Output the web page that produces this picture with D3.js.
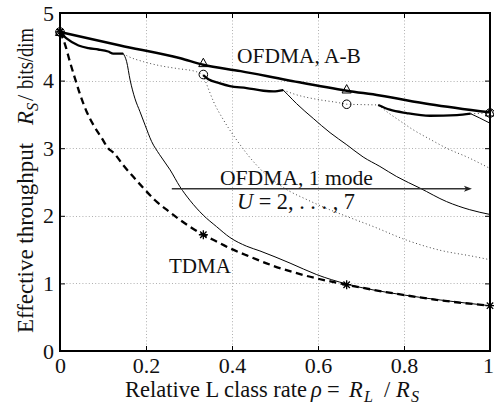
<!DOCTYPE html>
<html><head><meta charset="utf-8">
<script src="https://cdn.jsdelivr.net/npm/d3@7"></script>
<style>
body{margin:0;background:#fff}
svg text{font-family:"Liberation Serif","Times New Roman",serif;fill:#111}
</style>
</head><body>
<svg id="chart" width="494" height="407"></svg>
<script>
// ---------- data ----------
const xTicks = [0, 0.2, 0.4, 0.6, 0.8, 1];
const xTickLabels = ["0", "0.2", "0.4", "0.6", "0.8", "1"];
const yTicks = [0, 1, 2, 3, 4, 5];
const yTickLabels = ["0", "1", "2", "3", "4", "5"];

// OFDMA, A-B (thick solid)
const ofdmaAB = [[0,4.72],[0.14,4.52],[0.28,4.33],[0.333,4.235],[0.42,4.14],[0.527,4.01],[0.667,3.85],[0.744,3.78],[0.86,3.65],[1,3.53]];
const ofdmaABMarks = [[0,4.72],[1/3,4.26],[2/3,3.87],[1,3.53]];

// TDMA (thick dashed)
const tdma = [[0,4.72],[0.012,4.53],[0.023,4.28],[0.035,4.03],[0.047,3.79],[0.062,3.54],[0.078,3.34],[0.097,3.15],[0.112,3.0],[0.125,2.93],[0.147,2.75],[0.17,2.58],[0.194,2.41],[0.221,2.23],[0.248,2.09],[0.279,1.94],[0.302,1.84],[0.333,1.72],[0.364,1.62],[0.395,1.52],[0.432,1.42],[0.496,1.26],[0.574,1.11],[0.667,0.98],[0.798,0.83],[0.884,0.75],[1,0.67]];
const tdmaMarks = [[0,4.72],[1/3,1.72],[2/3,0.98],[1,0.67]];

// OFDMA 1 mode, best-of envelope pieces (thick solid, wavy)
const envSeg1 = [[0,4.72],[0.016,4.62],[0.043,4.52],[0.066,4.48],[0.089,4.46],[0.112,4.43],[0.124,4.40],[0.147,4.40]];
const envSeg2 = [[0.333,4.08],[0.345,4.02],[0.372,3.96],[0.395,3.92],[0.434,3.89],[0.473,3.85],[0.496,3.84],[0.519,3.86]];
const envSeg3 = [[0.74,3.64],[0.767,3.57],[0.806,3.52],[0.86,3.48],[0.923,3.49],[0.955,3.51]];
const envMarks = [[0,4.72],[1/3,4.09],[2/3,3.65],[1,3.52]];

// OFDMA 1 mode, single U curves (thin solid)
const u2 = [[0.147,4.40],[0.155,4.28],[0.163,4.01],[0.174,3.74],[0.186,3.54],[0.198,3.34],[0.213,3.10],[0.231,2.91],[0.256,2.68],[0.279,2.43],[0.302,2.23],[0.333,2.01],[0.364,1.84],[0.395,1.68],[0.434,1.55],[0.465,1.48],[0.535,1.30],[0.597,1.13],[0.667,0.99],[0.798,0.83],[0.884,0.755],[1,0.67]];
const u4 = [[0.519,3.86],[0.53,3.79],[0.55,3.66],[0.589,3.44],[0.628,3.23],[0.667,3.05],[0.705,2.87],[0.744,2.73],[0.783,2.58],[0.837,2.41],[0.899,2.21],[0.953,2.09],[1,2.02]];
const u6 = [[0.955,3.51],[0.975,3.45],[1,3.37]];

// OFDMA 1 mode, single U curves (dotted)
const u3 = [[0.333,4.08],[0.345,3.88],[0.357,3.69],[0.38,3.42],[0.411,3.12],[0.45,2.80],[0.481,2.60],[0.512,2.45],[0.535,2.36],[0.574,2.24],[0.612,2.13],[0.659,2.01],[0.729,1.84],[0.806,1.64],[0.884,1.49],[0.961,1.40],[1,1.35]];
const u5 = [[0.74,3.64],[0.76,3.54],[0.787,3.42],[0.822,3.27],[0.864,3.12],[0.899,3.0],[0.95,2.86],[1,2.70]];
const dotLink1 = [[0.147,4.40],[0.155,4.37],[0.194,4.28],[0.233,4.22],[0.271,4.18],[0.318,4.13],[0.333,4.09]];
const dotLink2 = [[0.519,3.86],[0.55,3.79],[0.6,3.72],[0.651,3.67],[0.667,3.65],[0.7,3.645],[0.74,3.64]];
const dotLink3 = [[0.955,3.51],[1,3.52]];

// arrow "U = 2..7"
const arrowFrom = [0.26, 2.40];
const arrowTo = [0.958, 2.40];

// ---------- drawing ----------
const svg = d3.select("#chart");
const x = d3.scaleLinear().domain([0, 1]).range([60, 490]);
const y = d3.scaleLinear().domain([0, 5]).range([351, 13]);
const FS = 21.3, TFS = 22, LFS = 22.4;

// fit a text's font size so that it spans the wanted width (keeps glyph shapes)
function fit(sel, width) {
  const L = sel.node().getComputedTextLength();
  if (L > 0) {
    const fs = +sel.attr("font-size");
    sel.attr("font-size", Math.max(17, Math.min(27, fs * width / L)));
  }
  return sel;
}

// grid
const grid = svg.append("g").attr("stroke", "#b0b0b0").attr("stroke-width", 1).attr("stroke-dasharray", "1,2.2");
grid.selectAll("line.vx").data(xTicks.slice(1, -1)).join("line")
  .attr("x1", d => Math.round(x(d)) + 0.5).attr("x2", d => Math.round(x(d)) + 0.5)
  .attr("y1", y(0)).attr("y2", y(5));
grid.selectAll("line.hy").data(yTicks.slice(1, -1)).join("line")
  .attr("y1", d => Math.round(y(d)) + 0.5).attr("y2", d => Math.round(y(d)) + 0.5)
  .attr("x1", x(0)).attr("x2", x(1));

// axes
function styleAxis(g) {
  g.select(".domain").remove();
  g.selectAll(".tick line").attr("stroke", "#000").attr("stroke-width", 1);
  g.selectAll("text").attr("font-size", TFS).attr("fill", "#111")
    .attr("font-family", '"Liberation Serif","Times New Roman",serif');
}
const xAxisG = svg.append("g").attr("transform", `translate(0,${y(0)})`)
  .call(d3.axisBottom(x).tickValues(xTicks).tickFormat((d, i) => xTickLabels[i]).tickSize(-5).tickPadding(6))
  .call(styleAxis);
xAxisG.selectAll(".tick text").filter(d => d === 1).attr("dx", -2);
svg.append("g").attr("transform", `translate(${x(0)},0)`)
  .call(d3.axisLeft(y).tickValues(yTicks).tickFormat((d, i) => yTickLabels[i]).tickSize(-5).tickPadding(6))
  .call(styleAxis);
svg.append("g").attr("transform", `translate(0,${y(5)})`)
  .call(d3.axisTop(x).tickValues(xTicks).tickFormat("").tickSize(-5)).call(styleAxis);
svg.append("g").attr("transform", `translate(${x(1)},0)`)
  .call(d3.axisRight(y).tickValues(yTicks).tickFormat("").tickSize(-5)).call(styleAxis);

// frame
svg.append("rect").attr("x", x(0)).attr("y", y(5)).attr("width", x(1) - x(0)).attr("height", y(0) - y(5))
  .attr("fill", "none").attr("stroke", "#000").attr("stroke-width", 2);

// lines
const line = d3.line().x(d => x(d[0])).y(d => y(d[1])).curve(d3.curveMonotoneX);
const lines = svg.append("g").attr("fill", "none").attr("stroke-linejoin", "round");
function draw(data, w, dash, color) {
  lines.append("path").attr("d", line(data)).attr("stroke", color || "#000")
    .attr("stroke-width", w).attr("stroke-dasharray", dash || null);
}
[u3, u5, dotLink1, dotLink2, dotLink3].forEach(d => draw(d, 1, "1,2.6", "#444"));
[u2, u4, u6].forEach(d => draw(d, 1, null, "#000"));
draw(tdma, 2.3, "7,4.5");
[envSeg1, envSeg2, envSeg3].forEach(d => draw(d, 2.3));
draw(ofdmaAB, 2.5);

// markers
const mk = svg.append("g").attr("fill", "none").attr("stroke", "#000").attr("stroke-width", 1);
mk.selectAll("circle").data(envMarks).join("circle")
  .attr("cx", d => x(d[0])).attr("cy", d => y(d[1])).attr("r", 4.3);
mk.selectAll("path.tri").data(ofdmaABMarks).join("path").attr("class", "tri")
  .attr("d", d => { const cx = x(d[0]), cy = y(d[1]); return `M${cx},${cy - 4.8}L${cx + 4.6},${cy + 3.6}L${cx - 4.6},${cy + 3.6}Z`; });
mk.selectAll("path.star").data(tdmaMarks).join("path").attr("class", "star")
  .attr("stroke-width", 1.3)
  .attr("d", d => { const cx = x(d[0]), cy = y(d[1]), r = 4.5, q = 3.2;
    return `M${cx - r},${cy}L${cx + r},${cy}M${cx},${cy - r}L${cx},${cy + r}M${cx - q},${cy - q}L${cx + q},${cy + q}M${cx - q},${cy + q}L${cx + q},${cy - q}`; });

// arrow
const ax1 = x(arrowFrom[0]), ax2 = x(arrowTo[0]), ay = y(arrowFrom[1]);
svg.append("line").attr("x1", ax1).attr("x2", ax2 - 5).attr("y1", ay).attr("y2", ay)
  .attr("stroke", "#333").attr("stroke-width", 1.4);
svg.append("path").attr("d", `M${ax2},${ay}L${ax2 - 8},${ay - 3}L${ax2 - 6},${ay}L${ax2 - 8},${ay + 3}Z`).attr("fill", "#222");

// annotations
fit(svg.append("text").attr("x", 237).attr("y", y(4.26)).attr("font-size", FS).text("OFDMA, A-B"), 124);
fit(svg.append("text").attr("x", 220).attr("y", 184.5).attr("font-size", FS).text("OFDMA, 1 mode"), 153);
const ut = svg.append("text").attr("x", 237).attr("y", 208.5).attr("font-size", FS);
ut.append("tspan").attr("font-style", "italic").text("U");
ut.append("tspan").text(" = 2, . . . , 7");
fit(ut, 118);
fit(svg.append("text").attr("x", 169).attr("y", y(1.154)).attr("font-size", FS).text("TDMA"), 62);

// x label (pieces placed like the LaTeX typesetting)
const xlMain = fit(svg.append("text").attr("x", 125).attr("y", 397).attr("font-size", LFS).text("Relative L class rate"), 182);
const xl = svg.append("text").attr("y", 397).attr("font-size", xlMain.attr("font-size"));
xl.append("tspan").attr("x", 311).attr("font-style", "italic").text("ρ");
xl.append("tspan").attr("x", 327).text("=");
xl.append("tspan").attr("x", 349).attr("font-style", "italic").text("R");
xl.append("tspan").attr("x", 364).attr("font-style", "italic").attr("font-size", LFS * 0.72).attr("dy", 5).text("L");
xl.append("tspan").attr("x", 384).attr("dy", -5).text("/");
xl.append("tspan").attr("x", 396).attr("font-style", "italic").text("R");
xl.append("tspan").attr("x", 411).attr("font-style", "italic").attr("font-size", LFS * 0.72).attr("dy", 5).text("S");

// y label (rotated; x runs upward as -y)
const ylg = svg.append("g").attr("transform", "translate(33,0) rotate(-90)");
const ylMain = fit(ylg.append("text").attr("x", -333).attr("font-size", LFS).text("Effective throughput"), 190);
const yfs = +ylMain.attr("font-size");
const yl = ylg.append("text").attr("font-size", yfs);
yl.append("tspan").attr("x", -125).attr("font-style", "italic").text("R");
yl.append("tspan").attr("x", -111).attr("font-style", "italic").attr("font-size", yfs * 0.72).attr("dy", 5).text("S");
yl.append("tspan").attr("x", -101).attr("dy", -5).text("/");
ylg.append("text").attr("x", -89).attr("font-size", yfs)
  .attr("textLength", 61).attr("lengthAdjust", "spacingAndGlyphs").text("bits/dim");
</script>
</body></html>
